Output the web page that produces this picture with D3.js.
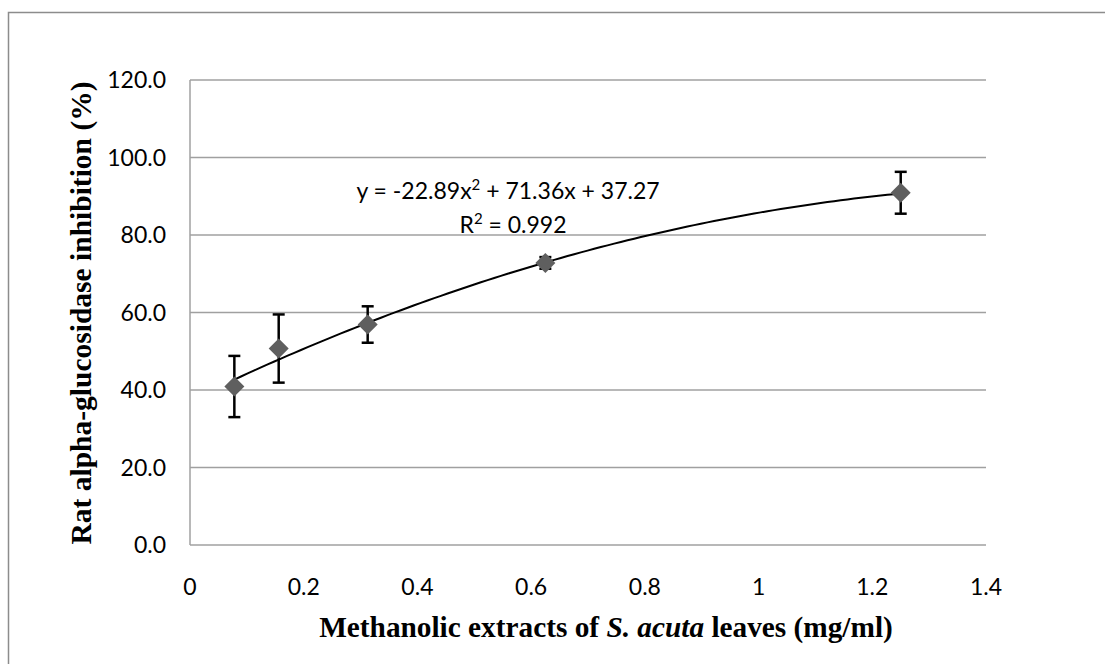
<!DOCTYPE html>
<html><head><meta charset="utf-8">
<script src="https://cdn.jsdelivr.net/npm/d3@7"></script>
<style>body{margin:0;background:#fff}</style>
</head><body>
<svg id="c" width="1105" height="664"></svg>
<script>
const concentrations = [0.078, 0.156, 0.3125, 0.625, 1.25];
const inhibition = [40.9, 50.7, 56.9, 72.8, 90.9];
const errors = [7.9, 8.8, 4.7, 1.5, 5.4];
const yTicks = [0, 20, 40, 60, 80, 100, 120];
const xTicks = [0, 0.2, 0.4, 0.6, 0.8, 1, 1.2, 1.4];
const trendCoef = [-22.89, 71.36, 37.27];

const svg = d3.select("#c");
svg.append("rect").attr("x", 8.5).attr("y", 12.5).attr("width", 1110).attr("height", 670)
  .attr("fill", "none").attr("stroke", "#8c8c8c").attr("stroke-width", 1.5);

const x = d3.scaleLinear().domain([0, 1.4]).range([190, 986]);
const y = d3.scaleLinear().domain([0, 120]).range([545, 80]);
const tickFont = "Lato, 'Open Sans', sans-serif";
const tickSize = 23;
const titleFont = "'Liberation Serif', 'Times New Roman', serif";

// grid
svg.append("g").selectAll("line").data(yTicks).join("line")
  .attr("x1", x(0)).attr("x2", x(1.4)).attr("y1", d => y(d)).attr("y2", d => y(d))
  .attr("stroke", "#a0a0a0").attr("stroke-width", 1.5);
svg.append("line").attr("x1", x(0)).attr("x2", x(0)).attr("y1", y(0)).attr("y2", y(120))
  .attr("stroke", "#a0a0a0").attr("stroke-width", 1.5);

// y tick labels
svg.append("g").selectAll("text").data(yTicks).join("text")
  .attr("x", 166).attr("y", d => y(d) + 8).attr("text-anchor", "end")
  .attr("font-family", tickFont).attr("font-size", tickSize).attr("fill", "#000")
  .text(d => d3.format(".1f")(d));
// x tick labels
svg.append("g").selectAll("text").data(xTicks).join("text")
  .attr("x", d => x(d)).attr("y", 595).attr("text-anchor", "middle")
  .attr("font-family", tickFont).attr("font-size", tickSize).attr("fill", "#000")
  .text(d => d3.format("~g")(d));

// axis titles
svg.append("text").attr("transform", "translate(91,313) rotate(-90)")
  .attr("text-anchor", "middle").attr("font-family", titleFont)
  .attr("font-weight", "bold").attr("font-size", 29.5).text("Rat alpha-glucosidase inhibition (%)");
const xt = svg.append("text").attr("x", 606).attr("y", 637).attr("text-anchor", "middle")
  .attr("font-family", titleFont)
  .attr("font-weight", "bold").attr("font-size", 29.3);
xt.append("tspan").text("Methanolic extracts of ");
xt.append("tspan").attr("font-style", "italic").text("S. acuta");
xt.append("tspan").text(" leaves (mg/ml)");

// trendline
const f = v => trendCoef[0] * v * v + trendCoef[1] * v + trendCoef[2];
const tr = d3.range(0, 101).map(i => concentrations[0] + (concentrations[4] - concentrations[0]) * i / 100);
svg.append("path").attr("d", d3.line().x(d => x(d)).y(d => y(f(d)))(tr))
  .attr("fill", "none").attr("stroke", "#000").attr("stroke-width", 2);

// error bars
const data = concentrations.map((c, i) => ({c, v: inhibition[i], e: errors[i]}));
const eb = svg.append("g").attr("stroke", "#000").attr("stroke-width", 2.5);
data.forEach(d => {
  eb.append("line").attr("x1", x(d.c)).attr("x2", x(d.c)).attr("y1", y(d.v - d.e)).attr("y2", y(d.v + d.e));
  [d.v - d.e, d.v + d.e].forEach(t => eb.append("line").attr("x1", x(d.c) - 6).attr("x2", x(d.c) + 6)
    .attr("y1", y(t)).attr("y2", y(t)));
});

// markers
svg.append("g").selectAll("path").data(data).join("path")
  .attr("transform", d => `translate(${x(d.c)},${y(d.v)})`)
  .attr("d", "M0,-10L10,0L0,10L-10,0Z").attr("fill", "#5f5f5f");

// equation
const eq = svg.append("text").attr("x", 508).attr("y", 199).attr("text-anchor", "middle")
  .attr("font-family", tickFont).attr("font-size", tickSize);
eq.append("tspan").text("y = -22.89x");
eq.append("tspan").attr("font-size", 15).attr("dy", -9).text("2");
eq.append("tspan").attr("dy", 9).text(" + 71.36x + 37.27");
const r2 = svg.append("text").attr("x", 513).attr("y", 233).attr("text-anchor", "middle")
  .attr("font-family", tickFont).attr("font-size", tickSize);
r2.append("tspan").text("R");
r2.append("tspan").attr("font-size", 15).attr("dy", -9).text("2");
r2.append("tspan").attr("dy", 9).text(" = 0.992");
</script>
</body></html>
